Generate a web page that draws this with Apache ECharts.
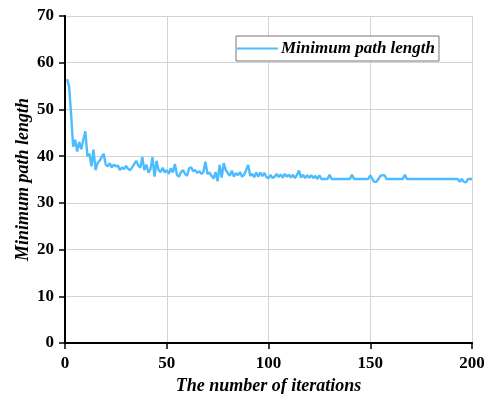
<!DOCTYPE html>
<html>
<head>
<meta charset="utf-8">
<script src="https://cdn.jsdelivr.net/npm/echarts@6/dist/echarts.min.js"></script>
<style>
  html, body {margin: 0; padding: 0; background: #fff;}
  #chart {width: 484px; height: 394px;}
</style>
</head>
<body>
<div id="chart"></div>
<script>
// iterations 1..200
const iterations = [];
for (let i = 1; i <= 200; i++) iterations.push(i);

const pathLength = [
  56.5, 55, 49, 42, 43.5, 41, 43, 41.5, 43.5, 45.3,
  40, 40.5, 37.8, 41.4, 37, 38.5, 39, 39.8, 40.5, 38.2,
  37.8, 38.5, 37.6, 38.2, 37.8, 38, 37, 37.6, 37.2, 37.9,
  37.3, 37, 37.6, 38.3, 39, 38, 37.5, 39.8, 37, 38.2,
  36.5, 37.2, 39.8, 35.6, 39, 37, 36.6, 37.5, 36.5, 37,
  36.2, 37.4, 36.5, 38.3, 36, 35.6, 36.6, 37, 36.2, 35.8,
  37.4, 37.6, 36.8, 37, 36.4, 36.8, 36.2, 36.6, 38.8, 36.2,
  36.5, 35.8, 35.2, 36.6, 34.6, 38.1, 35.4, 38.5, 37, 36.4,
  35.8, 36.9, 35.6, 36.4, 35.9, 36.6, 35.6, 36, 37, 38.1,
  35.8, 36.2, 35.5, 36.5, 35.6, 36.5, 35.7, 36.4, 35.5, 35.3,
  36, 35.3, 35.6, 36.2, 35.5, 36.1, 35.4, 36.2, 35.6, 36,
  35.4, 36, 35.3, 36, 36.9, 35.4, 36, 35.3, 35.9, 35.4,
  35.9, 35.3, 35.8, 35.1, 35.9, 35.1, 35.1, 35.1, 35.1, 36,
  35.1, 35.1, 35.1, 35.1, 35.1, 35.1, 35.1, 35.1, 35.1, 35.1,
  36, 35.1, 35.1, 35.1, 35.1, 35.1, 35.1, 35.1, 35.1, 35.9,
  35.1, 34.5, 34.5, 35.1, 35.8, 35.9, 35.9, 35.1, 35.1, 35.1,
  35.1, 35.1, 35.1, 35.1, 35.1, 35.1, 36, 35.1, 35.1, 35.1,
  35.1, 35.1, 35.1, 35.1, 35.1, 35.1, 35.1, 35.1, 35.1, 35.1,
  35.1, 35.1, 35.1, 35.1, 35.1, 35.1, 35.1, 35.1, 35.1, 35.1,
  35.1, 35.1, 35.1, 34.5, 35.1, 34.5, 34.4, 35.1, 35.1, 35.1
];

const xTicks = [0, 50, 100, 150, 200];
const yTicks = [0, 10, 20, 30, 40, 50, 60, 70];

const serif = '"Liberation Serif", "Times New Roman", serif';
const titleFont = {fontFamily: serif, fontSize: 18, fontWeight: 'bold', fontStyle: 'italic', color: '#000'};
const tickFont = {fontFamily: serif, fontSize: 17, fontWeight: 'bold', color: '#000'};
const frame = {show: true, lineStyle: {color: '#000', width: 1.8}};

const myChart = echarts.init(document.getElementById('chart'));
myChart.setOption({
  animation: false,
  backgroundColor: '#fff',
  grid: {left: 65, right: 12, top: 16, bottom: 51, outerBoundsMode: 'none', containLabel: false},
  legend: {
    left: 236, top: 36,
    padding: [4, 4, 4, 1],
    borderColor: '#777', borderWidth: 1,
    backgroundColor: '#fff',
    icon: 'rect', itemWidth: 41, itemHeight: 2, itemGap: 4,
    textStyle: {...titleFont, fontSize: 17, padding: [0, 0, 0, -2]}
  },
  xAxis: [{
    type: 'value', min: xTicks[0], max: xTicks[xTicks.length - 1], interval: 50,
    name: 'The number of iterations', nameLocation: 'middle', nameGap: 31,
    nameTextStyle: titleFont,
    axisLine: frame,
    axisTick: {show: true, length: 6, lineStyle: {color: '#000', width: 1.5}},
    axisLabel: {...tickFont, margin: 12},
    splitLine: {show: true, lineStyle: {color: '#d3d3d3', width: 1}}
  }, {
    type: 'value', position: 'top', min: 0, max: 200,
    axisLine: frame, axisTick: {show: false}, axisLabel: {show: false}, splitLine: {show: false}
  }],
  yAxis: [{
    type: 'value', min: yTicks[0], max: yTicks[yTicks.length - 1], interval: 10,
    name: 'Minimum path length', nameLocation: 'middle', nameGap: 33,
    nameMoveOverlap: false,
    nameTextStyle: titleFont,
    axisLine: frame,
    axisTick: {show: true, length: 6, lineStyle: {color: '#000', width: 1.5}},
    axisLabel: {...tickFont, margin: 11},
    splitLine: {show: true, lineStyle: {color: '#d3d3d3', width: 1}}
  }, {
    type: 'value', position: 'right', min: 0, max: 70,
    axisLine: frame, axisTick: {show: false}, axisLabel: {show: false}, splitLine: {show: false}
  }],
  series: [{
    name: 'Minimum path length',
    type: 'line',
    showSymbol: false,
    symbol: 'none',
    color: '#4dbcff',
    lineStyle: {width: 2.4, color: '#4dbcff'},
    data: iterations.map((it, k) => [it, pathLength[k]])
  }]
});
</script>
</body>
</html>
